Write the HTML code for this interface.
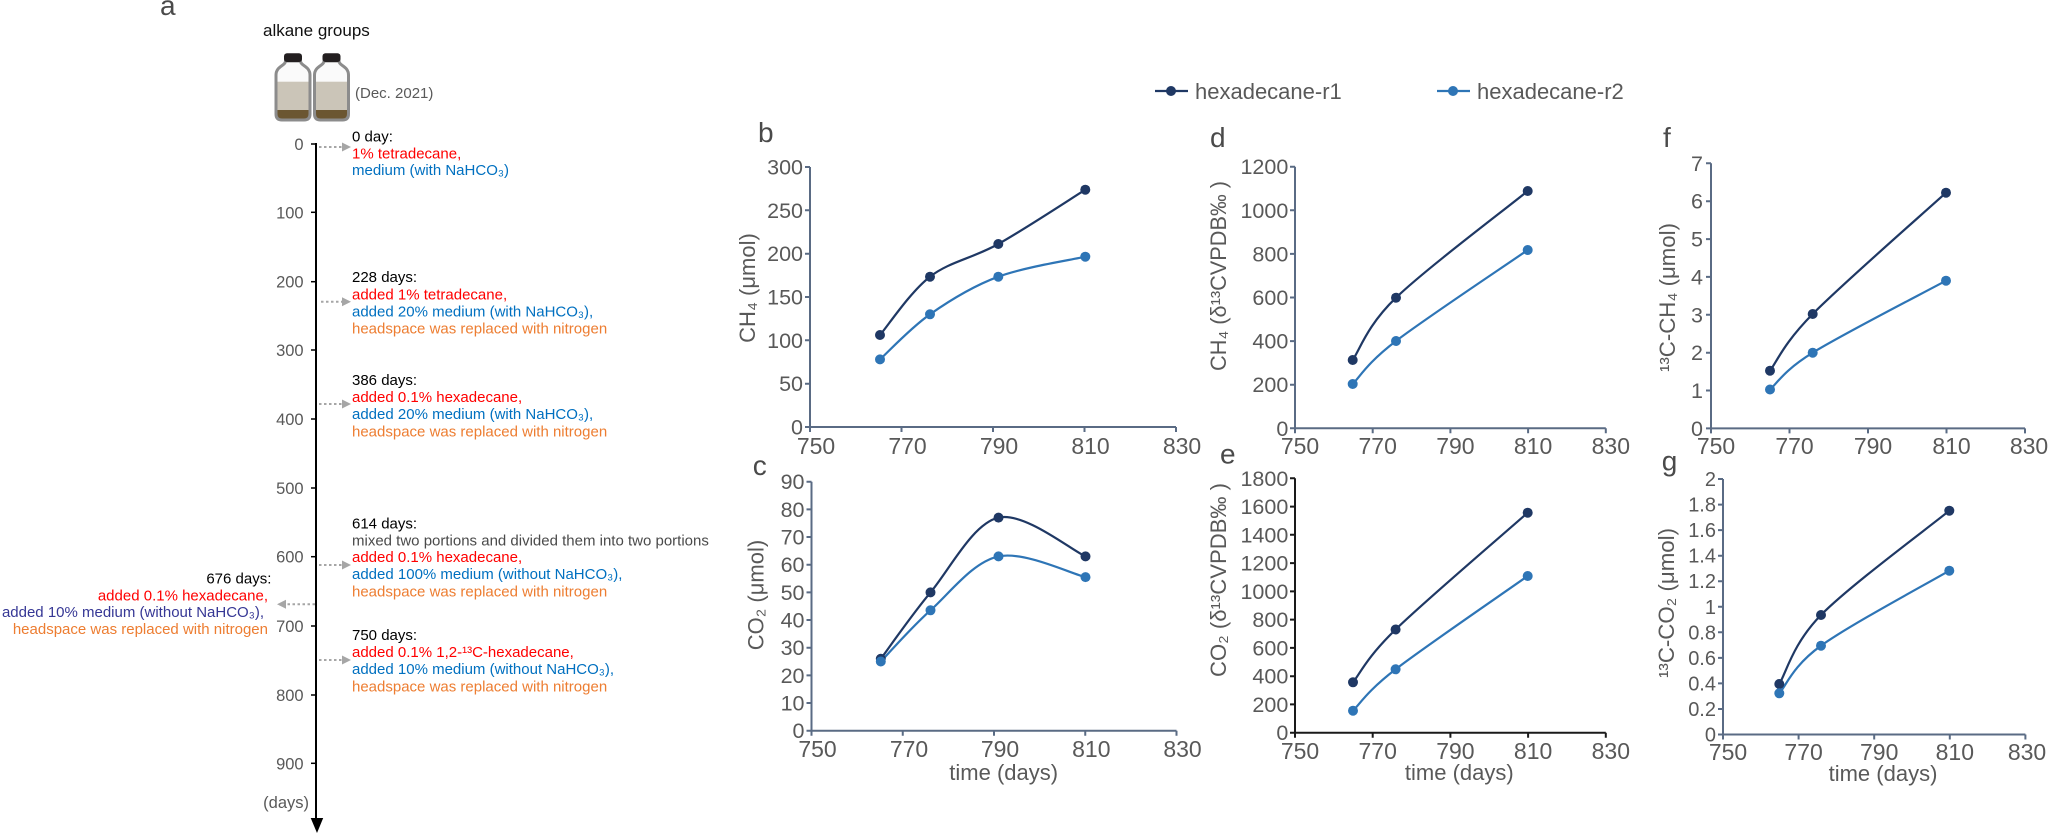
<!DOCTYPE html>
<html>
<head>
<meta charset="utf-8">
<style>
html,body{margin:0;padding:0;background:#fff;}
svg{display:block;}
text{font-family:"Liberation Sans",Arial,"DejaVu Sans",sans-serif;}
.ann{font-size:15px;}
.tl{font-size:16.5px;fill:#595959;}
.yt{font-size:21.5px;fill:#595959;text-anchor:end;}
.xt{font-size:23px;fill:#595959;text-anchor:middle;}
.lab{font-size:22px;fill:#595959;text-anchor:middle;}
.pl{font-size:28px;fill:#4a4a4a;}
.ax{stroke:#5a6b84;stroke-width:2;fill:none;}
.axk{stroke:#1a1a1a;stroke-width:2;fill:none;}
.r1{stroke:#1f3864;stroke-width:2.2;fill:none;}
.r2{stroke:#2e75b6;stroke-width:2.2;fill:none;}
.m1{fill:#1f3864;}
.m2{fill:#2e75b6;}
.arr{stroke:#a6a6a6;stroke-width:2;stroke-dasharray:2.5 2.5;fill:none;}
.ah{fill:#a6a6a6;}
</style>
</head>
<body>
<svg width="2049" height="833" viewBox="0 0 2049 833" xmlns="http://www.w3.org/2000/svg">
<defs>
<clipPath id="bclip"><path d="M285.5,61 L300.5,61 C300.5,66 310,66 310,75 L310,114 Q310,120 304,120 L282,120 Q276,120 276,114 L276,75 C276,66 285.5,66 285.5,61 Z"/></clipPath>
</defs>

<!-- Panel a -->
<text class="pl" x="160" y="15">a</text>
<text x="263" y="36" style="font-size:17px;fill:#111;">alkane groups</text>

<!-- bottles -->
<g id="bottle1">
  <g clip-path="url(#bclip)">
    <rect x="270" y="55" width="45" height="27" fill="#fafafa"/>
    <rect x="270" y="81.7" width="45" height="28.5" fill="#cbc5b8"/>
    <rect x="270" y="110" width="45" height="12" fill="#6b5631"/>
  </g>
  <path d="M285.5,61 L300.5,61 C300.5,66 310,66 310,75 L310,114 Q310,120 304,120 L282,120 Q276,120 276,114 L276,75 C276,66 285.5,66 285.5,61 Z" fill="none" stroke="#8c8c8c" stroke-width="3"/>
  <rect x="284" y="53.3" width="18" height="8.7" rx="3" fill="#231f20"/>
</g>
<g transform="translate(38.5,0)">
  <g clip-path="url(#bclip)">
    <rect x="270" y="55" width="45" height="27" fill="#fafafa"/>
    <rect x="270" y="81.7" width="45" height="28.5" fill="#cbc5b8"/>
    <rect x="270" y="110" width="45" height="12" fill="#6b5631"/>
  </g>
  <path d="M285.5,61 L300.5,61 C300.5,66 310,66 310,75 L310,114 Q310,120 304,120 L282,120 Q276,120 276,114 L276,75 C276,66 285.5,66 285.5,61 Z" fill="none" stroke="#8c8c8c" stroke-width="3"/>
  <rect x="284" y="53.3" width="18" height="8.7" rx="3" fill="#231f20"/>
</g>
<text x="355" y="98" style="font-size:15px;fill:#595959;">(Dec. 2021)</text>

<!-- timeline axis -->
<line x1="316" y1="143" x2="316" y2="820" stroke="#000" stroke-width="2"/>
<polygon points="310.7,818 323.2,818 317,833" fill="#000"/>
<g stroke="#000" stroke-width="1.5">
<line x1="311" y1="144" x2="316" y2="144"/>
<line x1="311" y1="212.3" x2="316" y2="212.3"/>
<line x1="311" y1="281.7" x2="316" y2="281.7"/>
<line x1="311" y1="350" x2="316" y2="350"/>
<line x1="311" y1="419" x2="316" y2="419"/>
<line x1="311" y1="488" x2="316" y2="488"/>
<line x1="311" y1="556.7" x2="316" y2="556.7"/>
<line x1="311" y1="626" x2="316" y2="626"/>
<line x1="311" y1="695" x2="316" y2="695"/>
<line x1="311" y1="763.3" x2="316" y2="763.3"/>
</g>
<g class="tl" text-anchor="end">
<text x="303.6" y="150">0</text>
<text x="303.6" y="218.3">100</text>
<text x="303.6" y="287.7">200</text>
<text x="303.6" y="356">300</text>
<text x="303.6" y="425">400</text>
<text x="303.6" y="494">500</text>
<text x="303.6" y="562.7">600</text>
<text x="303.6" y="632">700</text>
<text x="303.6" y="701">800</text>
<text x="303.6" y="769.3">900</text>
<text x="309" y="808">(days)</text>
</g>

<!-- arrows -->
<line class="arr" x1="319" y1="147" x2="342" y2="147"/><polygon class="ah" points="342,142.5 351,147 342,151.5"/>
<line class="arr" x1="321" y1="301.7" x2="342" y2="301.7"/><polygon class="ah" points="342,297.2 351,301.7 342,306.2"/>
<line class="arr" x1="319" y1="404" x2="342" y2="404"/><polygon class="ah" points="342,399.5 351,404 342,408.5"/>
<line class="arr" x1="319" y1="565" x2="342" y2="565"/><polygon class="ah" points="342,560.5 351,565 342,569.5"/>
<line class="arr" x1="319" y1="660" x2="342" y2="660"/><polygon class="ah" points="342,655.5 351,660 342,664.5"/>
<line class="arr" x1="315" y1="604.3" x2="286" y2="604.3"/><polygon class="ah" points="286,599.8 277,604.3 286,608.8"/>

<!-- annotations -->
<g class="ann">
<text x="352" y="141.5" fill="#000">0 day:</text>
<text x="352" y="158.5" fill="#ff0000">1% tetradecane,</text>
<text x="352" y="175" fill="#0070c0">medium (with NaHCO₃)</text>

<text x="352" y="282" fill="#000">228 days:</text>
<text x="352" y="299.5" fill="#ff0000">added 1% tetradecane,</text>
<text x="352" y="316.5" fill="#0070c0">added 20% medium (with NaHCO₃),</text>
<text x="352" y="333.5" fill="#ed7d31">headspace was replaced with nitrogen</text>

<text x="352" y="385" fill="#000">386 days:</text>
<text x="352" y="402" fill="#ff0000">added 0.1% hexadecane,</text>
<text x="352" y="419" fill="#0070c0">added 20% medium (with NaHCO₃),</text>
<text x="352" y="436.5" fill="#ed7d31">headspace was replaced with nitrogen</text>

<text x="352" y="528.3" fill="#000">614 days:</text>
<text x="352" y="545.3" fill="#4a4a4a">mixed two portions and divided them into two portions</text>
<text x="352" y="562" fill="#ff0000">added 0.1% hexadecane,</text>
<text x="352" y="579" fill="#0070c0">added 100% medium (without NaHCO₃),</text>
<text x="352" y="596.3" fill="#ed7d31">headspace was replaced with nitrogen</text>

<text x="352" y="640" fill="#000">750 days:</text>
<text x="352" y="657" fill="#ff0000">added 0.1% 1,2-¹³C-hexadecane,</text>
<text x="352" y="674" fill="#0070c0">added 10% medium (without NaHCO₃),</text>
<text x="352" y="691.7" fill="#ed7d31">headspace was replaced with nitrogen</text>

<g text-anchor="end">
<text x="271.4" y="583.3" fill="#000">676 days:</text>
<text x="268" y="600.3" fill="#ff0000">added 0.1% hexadecane,</text>
<text x="264" y="617" fill="#363795">added 10% medium (without NaHCO₃),</text>
<text x="268" y="634" fill="#ed7d31">headspace was replaced with nitrogen</text>
</g>
</g>

<!-- Legend -->
<line x1="1155" y1="91" x2="1188" y2="91" class="r1"/><circle cx="1171" cy="91" r="5" class="m1"/>
<text x="1195" y="99" style="font-size:22px;fill:#595959;">hexadecane-r1</text>
<line x1="1437" y1="91" x2="1470" y2="91" class="r2"/><circle cx="1453" cy="91" r="5" class="m2"/>
<text x="1477" y="99" style="font-size:22px;fill:#595959;">hexadecane-r2</text>

<!-- ===== Panel b ===== -->
<text class="pl" x="758" y="142">b</text>
<path class="ax" d="M810,167 L810,427 L1176,427"/>
<g class="ax">
<path d="M805,167H810M805,210.3H810M805,253.7H810M805,297H810M805,340.3H810M805,383.7H810M805,427H810"/>
<path d="M810,427V432M901.5,427V432M993,427V432M1084.5,427V432M1176,427V432"/>
</g>
<g class="yt">
<text x="803" y="174.5">300</text><text x="803" y="217.8">250</text><text x="803" y="261.2">200</text>
<text x="803" y="304.5">150</text><text x="803" y="347.8">100</text><text x="803" y="391.2">50</text><text x="803" y="434.5">0</text>
</g>
<g class="xt">
<text x="816" y="454">750</text><text x="907.5" y="454">770</text><text x="999" y="454">790</text><text x="1090.5" y="454">810</text><text x="1182" y="454">830</text>
</g>
<text class="lab" transform="translate(755,288) rotate(-90)">CH₄ (μmol)</text>
<path class="r1" d="M880,335 C888.3,325.3 910.3,291.9 930,276.7 C949.7,261.5 972.4,258.5 998.3,244 C1024.2,229.5 1070.8,198.8 1085.3,189.7"/>
<path class="r2" d="M880,359.4 C888.3,351.9 910.3,328.1 930,314.3 C949.7,300.5 972.4,286.3 998.3,276.7 C1024.2,267.1 1070.8,260 1085.3,256.7"/>
<g class="m1"><circle cx="880" cy="335" r="5"/><circle cx="930" cy="276.7" r="5"/><circle cx="998.3" cy="244" r="5"/><circle cx="1085.3" cy="189.7" r="5"/></g>
<g class="m2"><circle cx="880" cy="359.4" r="5"/><circle cx="930" cy="314.3" r="5"/><circle cx="998.3" cy="276.7" r="5"/><circle cx="1085.3" cy="256.7" r="5"/></g>

<!-- ===== Panel c ===== -->
<text class="pl" x="752.7" y="475">c</text>
<path class="ax" d="M811.5,481.7 L811.5,730.7 L1176.5,730.7"/>
<g class="ax">
<path d="M806.5,481.7H811.5M806.5,509.4H811.5M806.5,537H811.5M806.5,564.7H811.5M806.5,592.4H811.5M806.5,620H811.5M806.5,647.7H811.5M806.5,675.4H811.5M806.5,703H811.5M806.5,730.7H811.5"/>
<path d="M811.5,730.7V735.7M902.75,730.7V735.7M994,730.7V735.7M1085.25,730.7V735.7M1176.5,730.7V735.7"/>
</g>
<g class="yt">
<text x="804.5" y="489.2">90</text><text x="804.5" y="516.9">80</text><text x="804.5" y="544.5">70</text>
<text x="804.5" y="572.2">60</text><text x="804.5" y="599.9">50</text><text x="804.5" y="627.5">40</text>
<text x="804.5" y="655.2">30</text><text x="804.5" y="682.9">20</text><text x="804.5" y="710.5">10</text><text x="804.5" y="738.2">0</text>
</g>
<g class="xt">
<text x="817.5" y="757">750</text><text x="909" y="757">770</text><text x="1000" y="757">790</text><text x="1091.3" y="757">810</text><text x="1182.5" y="757">830</text>
</g>
<text class="lab" x="1003.7" y="780">time (days)</text>
<text class="lab" transform="translate(763.3,595) rotate(-90)">CO₂ (μmol)</text>
<path class="r1" d="M880.8,658.8 C889.1,647.7 910.9,615.9 930.5,592.4 C950.1,568.9 972.7,523.6 998.5,517.6 C1024.3,511.6 1071,549.9 1085.5,556.4"/>
<path class="r2" d="M880.8,661.5 C889.1,653 910.9,627.8 930.5,610.3 C950.1,592.8 972.7,561.9 998.5,556.4 C1024.3,550.9 1071,573.7 1085.5,577.1"/>
<g class="m1"><circle cx="880.8" cy="658.8" r="5"/><circle cx="930.5" cy="592.4" r="5"/><circle cx="998.5" cy="517.6" r="5"/><circle cx="1085.5" cy="556.4" r="5"/></g>
<g class="m2"><circle cx="880.8" cy="661.5" r="5"/><circle cx="930.5" cy="610.3" r="5"/><circle cx="998.5" cy="556.4" r="5"/><circle cx="1085.5" cy="577.1" r="5"/></g>

<!-- ===== Panel d ===== -->
<text class="pl" x="1210" y="147">d</text>
<path class="ax" d="M1295,166.7 L1295,428.3 L1605.8,428.3"/>
<g class="ax">
<path d="M1290,166.7H1295M1290,210.3H1295M1290,253.9H1295M1290,297.5H1295M1290,341.1H1295M1290,384.7H1295M1290,428.3H1295"/>
<path d="M1295,428.3V433.3M1372.7,428.3V433.3M1450.4,428.3V433.3M1528.1,428.3V433.3M1605.8,428.3V433.3"/>
</g>
<g class="yt">
<text x="1288.3" y="174.2">1200</text><text x="1288.3" y="217.8">1000</text><text x="1288.3" y="261.4">800</text>
<text x="1288.3" y="305">600</text><text x="1288.3" y="348.6">400</text><text x="1288.3" y="392.2">200</text><text x="1288.3" y="435.8">0</text>
</g>
<g class="xt">
<text x="1300" y="454">750</text><text x="1377.7" y="454">770</text><text x="1455.4" y="454">790</text><text x="1533.1" y="454">810</text><text x="1610.8" y="454">830</text>
</g>
<text class="lab" transform="translate(1226,276) rotate(-90)" textLength="190" lengthAdjust="spacingAndGlyphs">CH₄ (δ¹³CVPDB‰ )</text>
<path class="r1" d="M1352.7,360 C1359.9,349.6 1366.8,325.9 1396,297.7 C1425.2,269.5 1505.8,208.8 1527.7,191"/>
<path class="r2" d="M1352.7,384 C1359.9,376.8 1366.8,363.3 1396,341 C1425.2,318.7 1505.8,265.2 1527.7,250"/>
<g class="m1"><circle cx="1352.7" cy="360" r="5"/><circle cx="1396" cy="297.7" r="5"/><circle cx="1527.7" cy="191" r="5"/></g>
<g class="m2"><circle cx="1352.7" cy="384" r="5"/><circle cx="1396" cy="341" r="5"/><circle cx="1527.7" cy="250" r="5"/></g>

<!-- ===== Panel e ===== -->
<text class="pl" x="1220" y="463.3">e</text>
<path class="axk" d="M1295,478.3 L1295,732.7 L1605.8,732.7"/>
<g class="axk">
<path d="M1290,478.3H1295M1290,506.6H1295M1290,534.8H1295M1290,563.1H1295M1290,591.4H1295M1290,619.6H1295M1290,647.9H1295M1290,676.2H1295M1290,704.4H1295M1290,732.7H1295"/>
<path d="M1295,732.7V737.7M1372.7,732.7V737.7M1450.4,732.7V737.7M1528.1,732.7V737.7M1605.8,732.7V737.7"/>
</g>
<g class="yt">
<text x="1288.3" y="485.8">1800</text><text x="1288.3" y="514.1">1600</text><text x="1288.3" y="542.3">1400</text>
<text x="1288.3" y="570.6">1200</text><text x="1288.3" y="598.9">1000</text><text x="1288.3" y="627.1">800</text>
<text x="1288.3" y="655.4">600</text><text x="1288.3" y="683.7">400</text><text x="1288.3" y="711.9">200</text><text x="1288.3" y="740.2">0</text>
</g>
<g class="xt">
<text x="1300" y="759">750</text><text x="1377.7" y="759">770</text><text x="1455.4" y="759">790</text><text x="1533.1" y="759">810</text><text x="1610.8" y="759">830</text>
</g>
<text class="lab" x="1459.3" y="780">time (days)</text>
<text class="lab" transform="translate(1226,580) rotate(-90)" textLength="194" lengthAdjust="spacingAndGlyphs">CO₂ (δ¹³CVPDB‰ )</text>
<path class="r1" d="M1353,682.3 C1360.1,673.5 1366.5,657.8 1395.6,629.5 C1424.7,601.2 1505.7,532.2 1527.7,512.7"/>
<path class="r2" d="M1353,710.7 C1360.1,703.8 1366.5,691.8 1395.6,669.3 C1424.7,646.9 1505.7,591.6 1527.7,576"/>
<g class="m1"><circle cx="1353" cy="682.3" r="5"/><circle cx="1395.6" cy="629.5" r="5"/><circle cx="1527.7" cy="512.7" r="5"/></g>
<g class="m2"><circle cx="1353" cy="710.7" r="5"/><circle cx="1395.6" cy="669.3" r="5"/><circle cx="1527.7" cy="576" r="5"/></g>

<!-- ===== Panel f ===== -->
<text class="pl" x="1663" y="147">f</text>
<path class="ax" d="M1711,163.3 L1711,428.4 L2025,428.4"/>
<g class="ax">
<path d="M1706,163.3H1711M1706,201.2H1711M1706,239.1H1711M1706,276.9H1711M1706,314.8H1711M1706,352.7H1711M1706,390.5H1711M1706,428.4H1711"/>
<path d="M1711,428.4V433.4M1789.5,428.4V433.4M1868,428.4V433.4M1946.5,428.4V433.4M2025,428.4V433.4"/>
</g>
<g class="yt">
<text x="1703" y="170.8">7</text><text x="1703" y="208.7">6</text><text x="1703" y="246.6">5</text><text x="1703" y="284.4">4</text>
<text x="1703" y="322.3">3</text><text x="1703" y="360.2">2</text><text x="1703" y="398">1</text><text x="1703" y="435.9">0</text>
</g>
<g class="xt">
<text x="1716" y="454">750</text><text x="1794.5" y="454">770</text><text x="1873" y="454">790</text><text x="1951.5" y="454">810</text><text x="2029" y="454">830</text>
</g>
<text class="lab" transform="translate(1675,297.5) rotate(-90)" textLength="149" lengthAdjust="spacingAndGlyphs">¹³C-CH₄ (μmol)</text>
<path class="r1" d="M1770,370.7 C1777.1,361.3 1783.4,343.7 1812.7,314 C1842,284.3 1923.8,212.9 1946,192.7"/>
<path class="r2" d="M1770,389.5 C1777.1,383.4 1783.4,370.8 1812.7,352.7 C1842,334.6 1923.8,292.7 1946,280.7"/>
<g class="m1"><circle cx="1770" cy="370.7" r="5"/><circle cx="1812.7" cy="314" r="5"/><circle cx="1946" cy="192.7" r="5"/></g>
<g class="m2"><circle cx="1770" cy="389.5" r="5"/><circle cx="1812.7" cy="352.7" r="5"/><circle cx="1946" cy="280.7" r="5"/></g>

<!-- ===== Panel g ===== -->
<text class="pl" x="1661.7" y="470.5">g</text>
<path class="ax" d="M1723,479 L1723,734.5 L2025.4,734.5"/>
<g class="ax">
<path d="M1718,479H1723M1718,504.6H1723M1718,530.1H1723M1718,555.7H1723M1718,581.2H1723M1718,606.8H1723M1718,632.3H1723M1718,657.9H1723M1718,683.4H1723M1718,709H1723M1718,734.5H1723"/>
<path d="M1723,734.5V739.5M1798.6,734.5V739.5M1874.2,734.5V739.5M1949.8,734.5V739.5M2025.4,734.5V739.5"/>
</g>
<g class="yt" style="font-size:20px;">
<text x="1716" y="486">2</text><text x="1716" y="511.6">1.8</text><text x="1716" y="537.1">1.6</text>
<text x="1716" y="562.7">1.4</text><text x="1716" y="588.2">1.2</text><text x="1716" y="613.8">1</text>
<text x="1716" y="639.3">0.8</text><text x="1716" y="664.9">0.6</text><text x="1716" y="690.4">0.4</text>
<text x="1716" y="716">0.2</text><text x="1716" y="741.5">0</text>
</g>
<g class="xt">
<text x="1728" y="760">750</text><text x="1803.6" y="760">770</text><text x="1879.2" y="760">790</text><text x="1954.8" y="760">810</text><text x="2027" y="760">830</text>
</g>
<text class="lab" x="1883" y="781">time (days)</text>
<text class="lab" transform="translate(1674,603) rotate(-90)" textLength="150" lengthAdjust="spacingAndGlyphs">¹³C-CO₂ (μmol)</text>
<path class="r1" d="M1779.3,684 C1786.3,672.5 1792.7,643.9 1821,615 C1849.3,586.1 1927.9,528.1 1949.3,510.7"/>
<path class="r2" d="M1779.3,693.3 C1786.3,685.4 1792.7,666.1 1821,645.7 C1849.3,625.3 1927.9,583.2 1949.3,570.7"/>
<g class="m1"><circle cx="1779.3" cy="684" r="5"/><circle cx="1821" cy="615" r="5"/><circle cx="1949.3" cy="510.7" r="5"/></g>
<g class="m2"><circle cx="1779.3" cy="693.3" r="5"/><circle cx="1821" cy="645.7" r="5"/><circle cx="1949.3" cy="570.7" r="5"/></g>
</svg>
</body>
</html>
